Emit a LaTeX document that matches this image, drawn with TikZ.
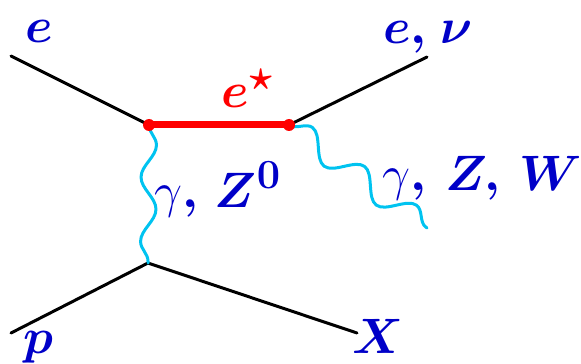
\documentclass[tikz,border=0pt]{standalone}
\usepackage{bm}
\usetikzlibrary{decorations.pathmorphing}
\definecolor{labelblue}{RGB}{0,0,200}
\definecolor{bosoncyan}{RGB}{0,195,240}
\begin{document}
\begin{tikzpicture}[x=0.5pt, y=-0.5pt, line cap=round, line join=round]
% Excited electron production diagram, pixel units
\providecommand{\fermLineWidth}{1.5pt}
\providecommand{\estarLineWidth}{3.5pt}
\providecommand{\vertexRadius}{3pt}
\tikzset{
  fermion/.style={draw=black, line width=\fermLineWidth},
  estarline/.style={draw=red, line width=\estarLineWidth},
  boson/.style 2 args={draw=bosoncyan, line width=\fermLineWidth,
    decorate, decoration={snake, segment length=#1, amplitude=#2}},
  vdot/.style={circle, fill=red, inner sep=0pt, minimum size=2*\vertexRadius},
  lbl/.style={inner sep=0pt, anchor=base west, text=labelblue,
    font=\fontsize{28}{32}\selectfont},
}
\useasboundingbox (0,0) rectangle (581,363);
% External points
\coordinate (ein) at (11,56);
\coordinate (eout) at (427,57);
\coordinate (bout) at (427,228);
\coordinate (pin) at (11,333);
\coordinate (xout) at (357,333);
% Vertices
\coordinate (vA) at (149,125);
\coordinate (vB) at (289,125);
\coordinate (vC) at (148,263);
% Fermion lines
\draw[fermion] (ein) -- (vA);
\draw[fermion] (vB) -- (eout);
\draw[fermion] (pin) -- (vC);
\draw[fermion] (vC) -- (xout);
% Bosons (lengths fitted to 2 and 2.5 waves)
\draw[boson={32.1pt}{3.8pt}] (vA) -- (vC);
\draw[boson={32.5pt}{6pt}] (vB) -- (bout);
% Excited electron
\draw[estarline] (vA) -- (vB);
\node[vdot] (dotA) at (vA) {};
\node[vdot] (dotB) at (vB) {};
% Labels
\node[lbl] (lein) at (25,43) {$\bm{e}$};
\node[lbl] (leout) at (383,44) {$\bm{e,\mskip2mu\nu}$};
\node[lbl, text=red] (lestar) at (221,108) {$\bm{e^\star}$};
\node[lbl] (lgz) at (154,207) {$\gamma\bm{,\mskip3mu Z^0}$};
\node[lbl] (lgzw) at (382,190) {$\gamma\bm{,\mskip4mu Z,\mskip4mu W}$};
\node[lbl] (lp) at (23,353) {$\bm{p}$};
\node[lbl] (lx) at (352,353) {$\bm{X}$};
\end{tikzpicture}
\end{document}
